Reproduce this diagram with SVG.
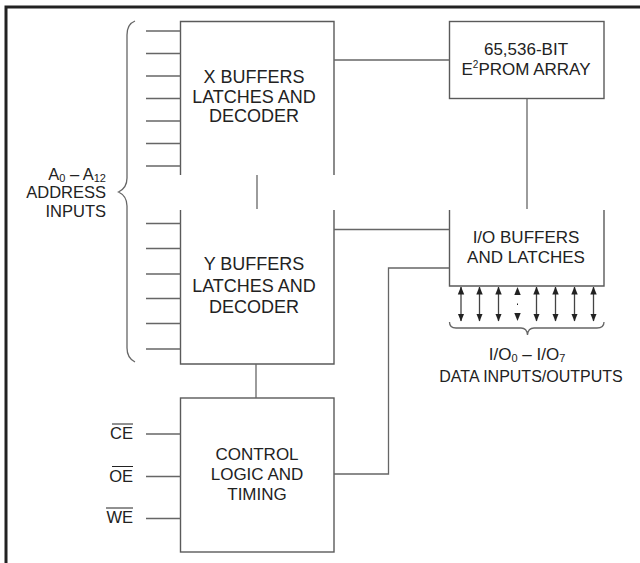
<svg xmlns="http://www.w3.org/2000/svg" width="640" height="563" viewBox="0 0 640 563">
<style>
.box{fill:none;stroke:#5a5a5a;stroke-width:1.4}
.ln{fill:none;stroke:#666;stroke-width:1.3}
.t{font-family:"Liberation Sans",Arial,sans-serif;font-size:17px;fill:#222;text-anchor:middle}
.tb{font-size:18px}
.l{font-family:"Liberation Sans",Arial,sans-serif;font-size:16.5px;fill:#222;text-anchor:end}
.arr{stroke:#444;stroke-width:1.3;marker-start:url(#ah);marker-end:url(#ah)}
</style>
<defs>
<marker id="ah" viewBox="0 0 8 8" refX="7.5" refY="4" markerWidth="8" markerHeight="8" markerUnits="userSpaceOnUse" orient="auto-start-reverse">
<path d="M0,0.8 L8,4 L0,7.2 Z" fill="#222"/>
</marker>
</defs>
<rect width="640" height="563" fill="#fff"/>
<g id="frame">
<path d="M6,563 L6,7 L640,7" fill="none" stroke="#222" stroke-width="3"/>
</g>
<g id="x-buffers">
<path class="box" d="M180.5,175 L180.5,21.5 L334,21.5 L334,175"/>
<text class="t tb" x="254" y="83">X BUFFERS</text>
<text class="t tb" x="254" y="102.5">LATCHES AND</text>
<text class="t tb" x="254" y="122">DECODER</text>
</g>
<g id="y-buffers">
<path class="box" d="M180.5,210 L180.5,364 L334,364 L334,210"/>
<text class="t tb" x="254" y="270">Y BUFFERS</text>
<text class="t tb" x="254" y="291.5">LATCHES AND</text>
<text class="t tb" x="254" y="313">DECODER</text>
</g>
<g id="eeprom">
<rect class="box" x="449.5" y="21.5" width="154.5" height="77"/>
<text class="t" x="526" y="55">65,536-BIT</text>
<text class="t" x="526" y="75">E<tspan font-size="10" dy="-7">2</tspan><tspan dy="7">PROM ARRAY</tspan></text>
</g>
<g id="io-buffers">
<path class="box" d="M449.5,210 L449.5,286 L604,286 L604,210"/>
<text class="t" x="526" y="243">I/O BUFFERS</text>
<text class="t" x="526" y="263">AND LATCHES</text>
</g>
<g id="control">
<rect class="box" x="180.5" y="398" width="153.5" height="154"/>
<text class="t" x="257" y="460">CONTROL</text>
<text class="t" x="257" y="480">LOGIC AND</text>
<text class="t" x="257" y="500">TIMING</text>
</g>
<g id="address-label">
<path class="ln" d="M135,21 Q127,24 127,35 L127,178 Q127,188 118.5,192 Q127,196 127,206 L127,348 Q127,358 135,362"/>
<text class="l" x="106" y="180">A<tspan font-size="11" dy="2">0</tspan><tspan dy="-2"> – A</tspan><tspan font-size="11" dy="2">12</tspan></text>
<text class="l" x="106" y="198">ADDRESS</text>
<text class="l" x="106" y="217">INPUTS</text>
</g>
<g id="control-labels">
<text class="l" x="133" y="439">CE</text>
<text class="l" x="133" y="482">OE</text>
<text class="l" x="133" y="523">WE</text>
<g stroke="#222" stroke-width="1">
<line x1="112" y1="424" x2="133" y2="424"/>
<line x1="112" y1="466.5" x2="133" y2="466.5"/>
<line x1="106" y1="508" x2="133" y2="508"/>
</g>
</g>
<g id="data-label">
<path class="ln" d="M449.5,322 Q449.5,328 456,328 L521,328 Q527,328 527.5,335 Q528,328 534,328 L597,328 Q604,328 604,322"/>
<text class="t" x="527" y="360" font-size="16">I/O<tspan font-size="11" dy="2">0</tspan><tspan dy="-2"> – I/O</tspan><tspan font-size="11" dy="2">7</tspan></text>
<text class="t" x="531" y="382" style="font-size:16px">DATA INPUTS/OUTPUTS</text>
</g>
<g id="connectors">
<g class="ln">
<line x1="146" y1="31" x2="180.5" y2="31"/>
<line x1="146" y1="53.5" x2="180.5" y2="53.5"/>
<line x1="146" y1="76" x2="180.5" y2="76"/>
<line x1="146" y1="98.5" x2="180.5" y2="98.5"/>
<line x1="146" y1="121" x2="180.5" y2="121"/>
<line x1="146" y1="143.5" x2="180.5" y2="143.5"/>
<line x1="146" y1="166" x2="180.5" y2="166"/>
<line x1="146" y1="223.5" x2="180.5" y2="223.5"/>
<line x1="146" y1="248.5" x2="180.5" y2="248.5"/>
<line x1="146" y1="274" x2="180.5" y2="274"/>
<line x1="146" y1="298.5" x2="180.5" y2="298.5"/>
<line x1="146" y1="323.5" x2="180.5" y2="323.5"/>
<line x1="146" y1="349" x2="180.5" y2="349"/>
<line x1="146" y1="434" x2="180.5" y2="434"/>
<line x1="146" y1="476.5" x2="180.5" y2="476.5"/>
<line x1="146" y1="518.5" x2="180.5" y2="518.5"/>
<line x1="257" y1="175" x2="257" y2="209"/>
<line x1="256" y1="364" x2="256" y2="398"/>
<line x1="527" y1="98.5" x2="527" y2="209"/>
<line x1="334" y1="60" x2="449.5" y2="60"/>
<line x1="334" y1="229.5" x2="449.5" y2="229.5"/>
<path d="M449.5,268 L388.5,268 L388.5,474 L334,474"/>
</g>
<line class="arr" x1="461" y1="287" x2="461" y2="321"/>
<line class="arr" x1="479.5" y1="287" x2="479.5" y2="321"/>
<line class="arr" x1="498.5" y1="287" x2="498.5" y2="321"/>
<g fill="#222">
<path d="M517.5,287 L514.3,295 L520.7,295 Z"/>
<path d="M517.5,321 L514.3,313 L520.7,313 Z"/>
<rect x="517" y="303.5" width="1" height="1.5"/>
</g>
<line class="arr" x1="536.5" y1="287" x2="536.5" y2="321"/>
<line class="arr" x1="555.5" y1="287" x2="555.5" y2="321"/>
<line class="arr" x1="574.5" y1="287" x2="574.5" y2="321"/>
<line class="arr" x1="593.5" y1="287" x2="593.5" y2="321"/>
</g>
</svg>
